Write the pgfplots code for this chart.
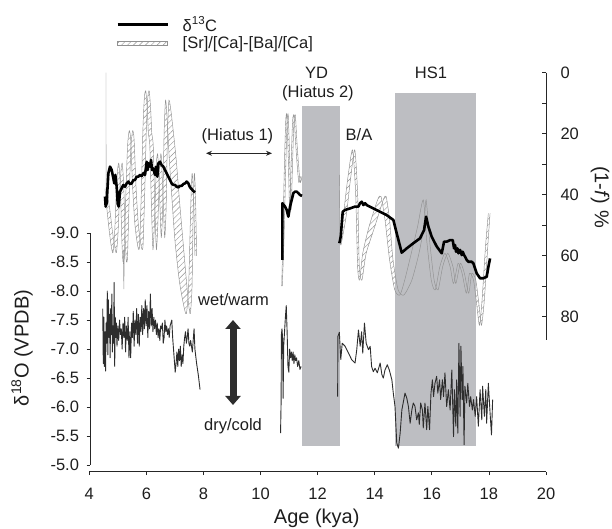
\documentclass[border=0pt]{standalone}
\usepackage{fontspec}
\setmainfont{Liberation Sans}
\usepackage{pgfplots}
\pgfplotsset{compat=1.18}
\usepackage{pgfplotstable}
\usepgfplotslibrary{fillbetween}
\usetikzlibrary{patterns,patterns.meta,arrows.meta}

\definecolor{boxgray}{RGB}{189,190,194}
\definecolor{oline}{RGB}{45,45,45}
\definecolor{bandgray}{RGB}{145,145,145}
\definecolor{txt}{RGB}{30,30,30}

\newcommand{\fs}{\fontsize{16.5}{19}\selectfont}
\newcommand{\fl}{\fontsize{20}{24}\selectfont}

% delta18O segments (kya, permil VPDB)
\pgfplotstableread[row sep=\\]{x y\\
4.47 -7.70\\ 4.49 -6.75\\ 4.51 -7.55\\ 4.53 -6.70\\ 4.55 -7.30\\ 4.57 -6.62\\ 4.59 -7.45\\ 4.61 -7.10\\
4.63 -8.00\\ 4.65 -6.90\\ 4.67 -7.85\\ 4.69 -7.20\\ 4.71 -7.60\\ 4.73 -6.85\\ 4.75 -7.70\\ 4.77 -7.25\\
4.79 -7.95\\ 4.81 -6.95\\ 4.83 -7.40\\ 4.85 -7.10\\ 4.87 -8.15\\ 4.89 -6.70\\ 4.91 -7.55\\ 4.93 -7.20\\
4.95 -7.45\\ 4.97 -7.05\\ 5.00 -7.40\\ 5.03 -7.15\\ 5.06 -7.50\\ 5.09 -7.25\\ 5.12 -7.35\\ 5.15 -7.00\\
5.18 -7.45\\ 5.21 -7.20\\ 5.24 -7.55\\ 5.27 -6.95\\ 5.30 -7.40\\ 5.33 -7.15\\ 5.36 -7.55\\ 5.39 -6.85\\
5.42 -7.30\\ 5.45 -6.85\\ 5.48 -7.45\\ 5.51 -7.20\\ 5.54 -7.65\\ 5.57 -7.05\\ 5.60 -7.50\\ 5.63 -7.25\\
5.66 -7.70\\ 5.69 -7.10\\ 5.72 -7.60\\ 5.75 -7.05\\ 5.78 -7.55\\ 5.81 -7.30\\ 5.84 -7.75\\ 5.87 -7.25\\
5.90 -7.70\\ 5.93 -7.35\\ 5.96 -7.85\\ 5.99 -7.40\\ 6.02 -7.75\\ 6.05 -7.20\\ 6.08 -7.65\\ 6.11 -7.35\\
6.14 -7.95\\ 6.17 -7.40\\ 6.20 -7.70\\ 6.23 -7.30\\ 6.26 -7.55\\ 6.29 -7.35\\ 6.32 -7.50\\ 6.35 -7.25\\
6.38 -7.45\\ 6.41 -7.20\\ 6.44 -7.35\\ 6.47 -7.15\\ 6.50 -7.40\\ 6.53 -7.35\\ 6.56 -7.45\\ 6.59 -7.10\\
6.62 -7.20\\ 6.65 -7.50\\ 6.68 -7.30\\ 6.71 -7.40\\ 6.74 -7.25\\ 6.77 -7.35\\ 6.80 -7.20\\ 6.83 -7.40\\
6.86 -7.45\\ 6.89 -7.50\\ 6.92 -7.20\\ 6.95 -7.00\\ 6.98 -6.80\\ 7.01 -6.60\\ 7.04 -6.75\\ 7.07 -6.95\\
7.10 -6.70\\ 7.13 -7.00\\ 7.16 -6.80\\ 7.19 -7.05\\ 7.22 -6.70\\ 7.25 -6.90\\ 7.28 -6.75\\ 7.31 -7.05\\
7.34 -7.20\\ 7.37 -7.30\\ 7.40 -7.10\\ 7.43 -7.20\\ 7.46 -7.35\\ 7.49 -7.10\\ 7.52 -7.05\\ 7.55 -7.15\\
7.58 -7.05\\ 7.61 -6.95\\ 7.64 -7.15\\ 7.67 -7.35\\ 7.70 -7.00\\ 7.76 -6.75\\ 7.82 -6.55\\ 7.88 -6.30\\
}\Oa
\pgfplotstableread[row sep=\\]{x y\\
10.70 -5.55\\ 10.72 -6.10\\ 10.73 -7.25\\ 10.75 -7.35\\ 10.77 -7.20\\ 10.79 -6.15\\ 10.81 -7.05\\
10.84 -7.30\\ 10.87 -7.55\\ 10.90 -7.75\\ 10.93 -7.30\\ 10.96 -6.70\\ 10.99 -6.60\\ 11.02 -7.00\\
11.05 -6.85\\ 11.08 -6.95\\ 11.11 -6.80\\ 11.14 -6.95\\ 11.17 -6.75\\ 11.20 -6.90\\ 11.23 -6.80\\
11.26 -6.85\\ 11.30 -6.70\\ 11.34 -6.80\\ 11.38 -6.65\\ 11.42 -6.70\\
}\Ob
\pgfplotstableread[row sep=\\]{x y\\
12.70 -6.18\\ 12.71 -7.22\\ 12.76 -7.29\\ 12.81 -6.82\\ 12.86 -7.10\\ 12.96 -7.05\\ 13.08 -6.93\\
13.19 -6.82\\ 13.31 -6.76\\ 13.37 -6.99\\ 13.43 -7.33\\ 13.49 -7.05\\ 13.54 -7.30\\ 13.58 -6.93\\
13.64 -7.45\\ 13.70 -7.10\\ 13.78 -6.99\\ 13.84 -7.05\\ 13.89 -6.70\\ 13.95 -6.61\\ 14.01 -6.67\\
14.09 -6.59\\ 14.19 -6.76\\ 14.25 -6.56\\ 14.30 -6.50\\ 14.36 -6.64\\ 14.44 -6.73\\ 14.51 -6.64\\
14.60 -6.47\\ 14.65 -6.24\\ 14.71 -6.01\\ 14.77 -5.38\\ 14.83 -5.29\\ 14.89 -5.55\\ 14.95 -5.95\\
15.06 -6.24\\ 15.12 -6.16\\ 15.18 -6.01\\ 15.24 -5.72\\ 15.30 -5.95\\ 15.35 -6.07\\ 15.41 -6.01\\
15.47 -5.78\\ 15.53 -5.90\\ 15.56 -5.70\\ 15.61 -6.07\\ 15.67 -5.95\\ 15.70 -5.64\\ 15.76 -6.07\\
15.82 -5.61\\ 15.86 -6.01\\ 15.92 -5.61\\ 15.97 -6.24\\ 16.02 -6.47\\ 16.06 -6.18\\ 16.11 -6.41\\
16.17 -6.53\\ 16.21 -6.24\\ 16.27 -6.47\\ 16.31 -6.13\\ 16.37 -6.47\\ 16.41 -6.18\\ 16.46 -6.59\\
16.52 -6.01\\ 16.58 -6.30\\ 16.64 -5.95\\ 16.70 -6.64\\ 16.76 -5.49\\ 16.79 -6.30\\ 16.84 -5.67\\
16.87 -6.47\\ 16.91 -5.55\\ 16.95 -7.10\\ 16.99 -5.84\\ 17.02 -7.05\\ 17.06 -6.13\\ 17.09 -6.70\\
17.13 -5.35\\ 17.16 -6.36\\ 17.22 -6.07\\ 17.26 -6.41\\ 17.32 -6.01\\ 17.36 -6.18\\ 17.42 -5.95\\
17.46 -6.13\\ 17.52 -5.84\\ 17.57 -6.18\\ 17.63 -5.67\\ 17.69 -6.30\\ 17.75 -5.78\\ 17.78 -6.36\\
17.84 -5.84\\ 17.89 -6.30\\ 17.92 -5.72\\ 17.98 -6.41\\ 18.04 -5.90\\ 18.09 -5.52\\ 18.13 -6.13\\
}\Oc

% delta13C segments (plotted on the (1-f) % scale)
\pgfplotstableread[row sep=\\]{x y\\
4.550 40.6\\ 4.573 43.9\\ 4.608 42.8\\ 4.667 33.0\\ 4.725 30.8\\ 4.784 31.9\\ 4.842 34.6\\ 4.877 36.3\\
4.912 33.5\\ 4.959 37.4\\ 4.994 42.8\\ 5.029 43.9\\ 5.076 39.0\\ 5.134 37.9\\ 5.192 36.8\\ 5.251 37.4\\
5.309 36.3\\ 5.368 35.7\\ 5.426 36.5\\ 5.484 36.3\\ 5.543 35.2\\ 5.601 35.2\\ 5.660 34.1\\ 5.718 34.1\\
5.776 33.5\\ 5.835 33.9\\ 5.893 33.0\\ 5.952 33.5\\ 6.010 29.2\\ 6.045 31.9\\ 6.080 29.7\\ 6.127 30.8\\
6.162 28.6\\ 6.197 31.9\\ 6.244 31.4\\ 6.302 33.5\\ 6.337 30.8\\ 6.384 34.1\\ 6.419 29.7\\ 6.477 29.2\\
6.536 30.3\\ 6.594 30.8\\ 6.652 31.9\\ 6.711 33.0\\ 6.769 34.1\\ 6.828 35.2\\ 6.886 36.3\\ 6.944 36.8\\
7.003 36.8\\ 7.061 37.4\\ 7.120 37.6\\ 7.178 37.1\\ 7.236 37.1\\ 7.295 36.5\\ 7.353 36.3\\ 7.412 35.7\\
7.470 36.3\\ 7.528 37.6\\ 7.587 38.2\\ 7.645 38.8\\ 7.704 39.2\\
}\Ca
\pgfplotstableread[row sep=\\]{x y\\
10.763 61.4\\ 10.764 42.8\\ 10.857 43.9\\ 10.915 45.0\\ 10.974 47.2\\ 11.032 43.9\\ 11.091 41.7\\
11.149 39.5\\ 11.207 39.0\\ 11.266 39.0\\ 11.324 39.5\\ 11.383 40.1\\ 11.453 40.4\\
}\Cb
\pgfplotstableread[row sep=\\]{x y\\
12.761 55.9\\ 12.808 53.8\\ 12.878 45.6\\ 12.960 45.0\\ 13.135 44.5\\ 13.310 43.9\\ 13.427 43.9\\
13.485 42.8\\ 13.544 42.3\\ 13.602 43.4\\ 13.661 42.8\\ 13.719 43.4\\ 13.953 44.5\\ 14.186 45.6\\
14.420 46.7\\ 14.653 48.3\\ 14.770 52.7\\ 14.945 59.0\\ 15.120 57.6\\ 15.354 55.9\\ 15.587 54.3\\
15.728 51.6\\ 15.798 47.2\\ 15.880 50.5\\ 15.996 53.8\\ 16.172 57.0\\ 16.347 59.2\\ 16.428 55.4\\
16.522 55.4\\ 16.639 54.9\\ 16.732 54.9\\ 16.779 57.6\\ 16.814 56.5\\ 16.849 58.7\\ 16.896 57.6\\
16.931 59.2\\ 16.989 58.1\\ 17.048 59.8\\ 17.083 58.7\\ 17.129 59.8\\ 17.164 60.3\\ 17.223 61.4\\
17.281 62.0\\ 17.398 62.0\\ 17.456 62.5\\ 17.573 65.8\\ 17.690 67.4\\ 17.807 67.4\\ 17.923 66.9\\
17.982 63.6\\ 18.040 60.9\\
}\Cc

% [Sr]/[Ca]-[Ba]/[Ca] band: two edges (xa and xb) at (1-f) %
\pgfplotstableread[row sep=\\]{xa xb v\\
4.55 4.60 38\\ 4.62 4.72 45\\ 4.70 4.81 52\\ 4.77 4.89 57\\ 4.83 4.95 59\\ 4.89 5.01 52\\ 4.95 5.07 38\\
5.00 5.12 31\\ 5.04 5.16 30\\ 5.09 5.21 38\\ 5.14 5.26 55\\ 5.18 5.30 62\\ 5.22 5.34 60\\ 5.28 5.40 40\\
5.34 5.46 24\\ 5.40 5.52 19\\ 5.45 5.57 22\\ 5.52 5.64 38\\ 5.60 5.72 50\\ 5.70 5.82 57\\ 5.76 5.88 57\\
5.82 5.94 40\\ 5.88 6.00 18\\ 5.93 6.05 8\\ 5.98 6.10 6\\ 6.03 6.15 12\\ 6.07 6.19 20\\ 6.12 6.24 24\\
6.18 6.30 45\\ 6.23 6.35 58\\ 6.28 6.40 50\\ 6.35 6.47 30\\ 6.40 6.52 27\\ 6.46 6.58 40\\ 6.52 6.64 54\\
6.57 6.69 45\\ 6.62 6.74 20\\ 6.67 6.79 9\\ 6.72 6.88 14\\ 6.80 7.04 28\\ 6.90 7.16 42\\ 7.00 7.28 55\\
7.15 7.40 68\\ 7.30 7.48 76\\ 7.40 7.54 79\\ 7.48 7.60 70\\ 7.55 7.64 45\\ 7.60 7.68 33\\ 7.65 7.72 40\\
7.70 7.76 60\\
}\Sa
\pgfplotstableread[row sep=\\]{xa xb v\\
10.74 10.76 70\\ 10.78 10.82 55\\ 10.83 10.88 32\\ 10.88 10.93 16\\ 10.92 10.97 14\\ 10.97 11.02 28\\
11.02 11.07 45\\ 11.07 11.12 30\\ 11.12 11.17 16\\ 11.17 11.22 14\\ 11.22 11.27 22\\ 11.28 11.33 30\\
11.34 11.39 36\\ 11.40 11.45 34\\
}\Sb
\pgfplotstableread[row sep=\\]{xa xb v\\
12.79 12.82 56.5\\ 12.90 13.00 47\\ 13.05 13.15 35\\ 13.22 13.30 25.3\\ 13.33 13.40 39.5\\
13.40 13.46 63.6\\ 13.47 13.55 68\\ 13.58 13.70 59.2\\ 13.80 14.00 50.5\\ 14.10 14.30 41.7\\
14.22 14.40 40.6\\ 14.36 14.52 48.3\\ 14.52 14.64 61.4\\ 14.70 14.82 71.2\\ 14.88 15.02 72.9\\
15.05 15.30 68\\ 15.28 15.55 59.2\\ 15.50 15.72 50.5\\ 15.70 15.80 41.7\\ 15.82 15.92 54.9\\
15.98 16.08 68\\ 16.12 16.22 71.2\\ 16.28 16.38 63.6\\ 16.46 16.56 59.2\\ 16.64 16.74 63.6\\
16.76 16.84 69.1\\ 16.92 17.00 62.5\\ 17.06 17.14 65.8\\ 17.21 17.29 72.3\\ 17.32 17.40 65.8\\
17.46 17.54 68\\ 17.58 17.66 76.7\\ 17.67 17.74 82.8\\ 17.76 17.84 74.5\\ 17.88 17.96 57\\
17.98 18.04 46.1\\
}\Sc

\tikzset{hatch/.style={pattern={Lines[angle=45, distance=4.2pt, line width=0.45pt]}, pattern color=bandgray}}

\begin{document}
\begin{tikzpicture}
\pgfplotsset{every axis/.append style={scale only axis, clip=false,
  /pgf/number format/assume math mode=true, tick label style={font=\fs, text=txt}}}

% bottom x axis
\begin{axis}[at={(89.3pt,57.3pt)}, anchor=south west, width=456.7pt, height=10pt,
  xmin=4, xmax=20, ymin=0, ymax=1, axis x line=bottom, axis y line=none,
  axis line style={-, line width=0.8pt, black!85}, xtick={4,6,...,20},
  xticklabel style={yshift=-9pt},
  tick align=outside, major tick length=3.5pt, tick style={line width=0.8pt, black!85}]
\end{axis}

% left spine (delta18O)
\begin{axis}[at={(90pt,64pt)}, anchor=south west, width=5pt, height=231.7pt,
  xmin=0, xmax=1, ymin=-9, ymax=-5, y dir=reverse, axis y line*=left, axis x line=none,
  axis line style={-, line width=0.8pt, black!85},
  ytick={-9,-8.5,-8,-7.5,-7,-6.5,-6,-5.5,-5},
  yticklabel style={xshift=-4pt, /pgf/number format/.cd, fixed, fixed zerofill, precision=1},
  tick align=outside, major tick length=3.5pt, tick style={line width=0.8pt, black!85}]
\end{axis}

% delta18O data and shaded intervals
\begin{axis}[at={(89.3pt,57.3pt)}, anchor=south west, width=456.7pt, height=411.7pt,
  xmin=4, xmax=20, ymin=-11.988, ymax=-4.8845, y dir=reverse, hide axis]
\addplot[fill=boxgray, draw=none] coordinates {(11.46,-11.195) (12.78,-11.195) (12.78,-5.321) (11.46,-5.321)} -- cycle;
\addplot[fill=boxgray, draw=none] coordinates {(14.71,-11.414) (17.54,-11.414) (17.54,-5.321) (14.71,-5.321)} -- cycle;
\addplot[oline, line width=0.9pt, line join=round] table {\Oa};
\addplot[oline, line width=0.9pt, line join=round] table {\Ob};
\addplot[oline, line width=0.9pt, line join=round] table {\Oc};
\end{axis}

% (1-f) % axis, band and delta13C
\begin{axis}[at={(89.3pt,189pt)}, anchor=south west, width=456.7pt, height=267.3pt,
  xmin=4, xmax=20, ymin=0, ymax=87.64, y dir=reverse, axis y line*=right, axis x line=none,
  axis line style={-, line width=0.8pt, black!85},
  ytick={0,20,40,60,80}, minor ytick={10,30,50,70},
  tick align=inside, major tick length=4pt, minor tick length=4pt,
  tick style={line width=0.8pt, black!85},
  yticklabel style={xshift=11pt},
  legend cell align=left,
  legend style={at={(0.0519,1.225)}, anchor=north west, draw=none, fill=none,
    font=\fs, text=txt, row sep=0pt}]
\addlegendimage{legend image code/.code={\draw[black, line width=2.6pt] (0pt,0pt) -- (50pt,0pt); \path (63pt,0pt);}}
\addlegendentry{δ\textsuperscript{13}C}
\addlegendimage{legend image code/.code={\draw[hatch, draw=bandgray, line width=0.4pt] (0pt,-2pt) rectangle (50pt,2pt); \path (63pt,0pt);}}
\addlegendentry{[Sr]/[Ca]-[Ba]/[Ca]}

\addplot[name path=a1, bandgray, line width=0.45pt, smooth, tension=0.4, forget plot] table[x=xa, y=v] {\Sa};
\addplot[name path=b1, bandgray, line width=0.45pt, smooth, tension=0.4, forget plot] table[x=xb, y=v] {\Sa};
\addplot[hatch, forget plot] fill between[of=a1 and b1];
\addplot[name path=a2, bandgray, line width=0.45pt, smooth, tension=0.4, forget plot] table[x=xa, y=v] {\Sb};
\addplot[name path=b2, bandgray, line width=0.45pt, smooth, tension=0.4, forget plot] table[x=xb, y=v] {\Sb};
\addplot[hatch, forget plot] fill between[of=a2 and b2];
\addplot[name path=a3, bandgray, line width=0.45pt, smooth, tension=0.4, forget plot] table[x=xa, y=v] {\Sc};
\addplot[name path=b3, bandgray, line width=0.45pt, smooth, tension=0.4, forget plot] table[x=xb, y=v] {\Sc};
\addplot[hatch, forget plot] fill between[of=a3 and b3];
\addplot[bandgray, line width=0.45pt, forget plot] coordinates {(4.585,0) (4.585,20) (4.59,40)};
\addplot[bandgray, line width=0.45pt, forget plot] coordinates {(5.19,58) (5.21,71) (5.23,58)};
\addplot[bandgray, line width=0.45pt, forget plot] coordinates {(12.76,33.5) (12.78,50) (12.79,56.5)};

\addplot[black, line width=2.6pt, line join=round, forget plot] table {\Ca};
\addplot[black, line width=2.6pt, line join=round, forget plot] table {\Cb};
\addplot[black, line width=2.6pt, line join=round, forget plot] table {\Cc};
\end{axis}

% annotations
\begin{scope}[every node/.style={text=txt, inner sep=0pt}]
\node[font=\fs] at (316.5pt,456pt) {YD};
\node[font=\fs] at (318pt,436pt) {(Hiatus 2)};
\node[font=\fs] at (431pt,456pt) {HS1};
\node[font=\fs] at (359pt,394pt) {B/A};
\node[font=\fs] at (237.5pt,392.3pt) {(Hiatus 1)};
\node[font=\fs] at (233.5pt,229pt) {wet/warm};
\node[font=\fs] at (233pt,102.3pt) {dry/cold};
\node[font=\fl] at (316.7pt,11pt) {Age (kya)};
\node[font=\fl, rotate=90] at (22pt,181pt) {δ\textsuperscript{18}O (VPDB)};
\node[font=\fl, rotate=-90] at (600pt,332pt) {(1-\textit{f}) \%};
\end{scope}
\draw[black!85, line width=0.8pt, {Stealth[length=6pt,width=5pt]}-{Stealth[length=6pt,width=5pt]}] (206pt,375.7pt) -- (272pt,375.7pt);
\draw[oline, line width=7pt, {Triangle[width=15pt,length=9pt]}-{Triangle[width=15pt,length=9pt]}] (233pt,124pt) -- (233pt,209pt);
\pgfresetboundingbox
\useasboundingbox (0pt,0pt) rectangle (612pt,529pt);
\end{tikzpicture}
\end{document}
